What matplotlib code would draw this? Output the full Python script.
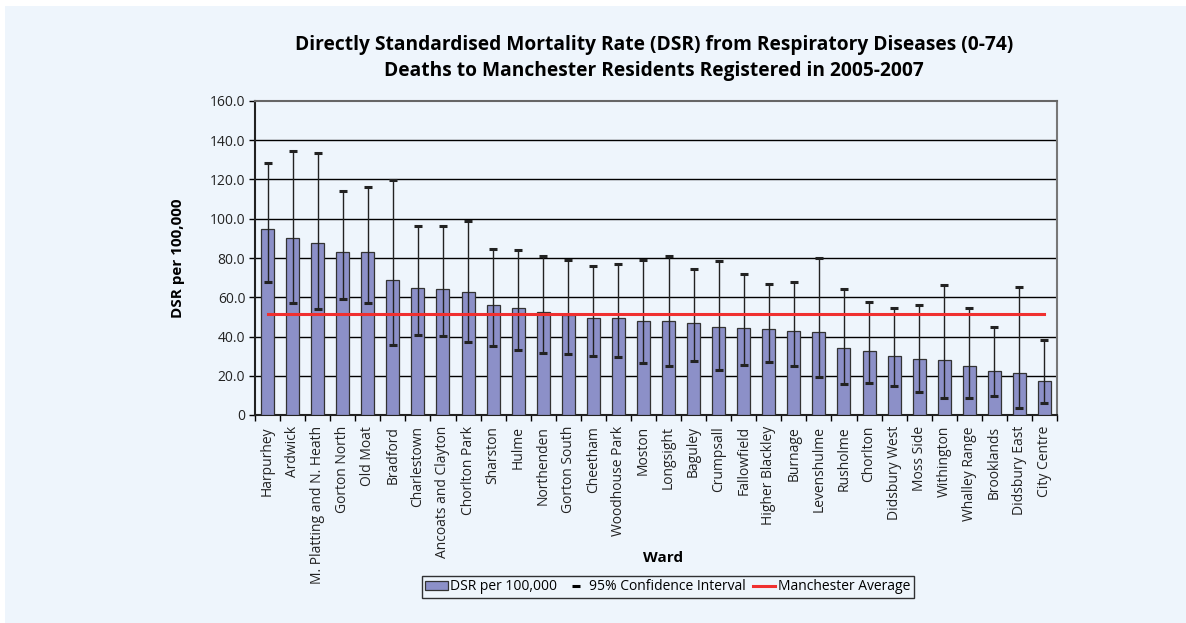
import matplotlib
matplotlib.use("Agg")
import matplotlib.pyplot as plt
from matplotlib.patches import Rectangle, Patch
from matplotlib.lines import Line2D
import numpy as np

plt.rcParams['font.family'] = ['Open Sans', 'DejaVu Sans']

wards = ["Harpurhey", "Ardwick", "M. Platting and N. Heath", "Gorton North", "Old Moat",
         "Bradford", "Charlestown", "Ancoats and Clayton", "Chorlton Park", "Sharston",
         "Hulme", "Northenden", "Gorton South", "Cheetham", "Woodhouse Park", "Moston",
         "Longsight", "Baguley", "Crumpsall", "Fallowfield", "Higher Blackley", "Burnage",
         "Levenshulme", "Rusholme", "Chorlton", "Didsbury West", "Moss Side", "Withington",
         "Whalley Range", "Brooklands", "Didsbury East", "City Centre"]
dsr = [94.6, 90.0, 87.5, 83.2, 83.1, 69.0, 64.6, 64.0, 62.7, 56.2, 54.4, 52.3, 50.8,
       49.4, 49.3, 47.9, 47.7, 46.7, 44.7, 44.5, 43.8, 42.6, 42.5, 34.3, 32.6, 30.2,
       28.4, 27.9, 24.8, 22.6, 21.6, 17.3]
ci_upper = [128.2, 134.7, 133.5, 114.0, 116.3, 119.7, 96.3, 96.3, 98.9, 84.6, 84.2, 81.2,
            79.1, 75.9, 77.1, 79.1, 81.2, 74.2, 78.5, 71.8, 66.9, 67.8, 80.0, 64.2, 57.4,
            54.7, 56.1, 66.1, 54.5, 45.0, 65.2, 38.1]
ci_lower = [67.9, 57.2, 54.2, 59.0, 57.2, 35.5, 40.9, 40.3, 37.0, 35.3, 33.1, 31.6, 31.1,
            30.2, 29.6, 26.5, 25.1, 27.7, 22.9, 25.6, 27.2, 25.0, 19.4, 15.8, 16.5, 14.8,
            11.9, 8.7, 8.8, 9.5, 3.7, 6.3]
manchester_avg = 51.5
yticks = [0, 20, 40, 60, 80, 100, 120, 140, 160]
ytick_labels = ["0", "20.0", "40.0", "60.0", "80.0", "100.0", "120.0", "140.0", "160.0"]

BG = "#EEF5FC"
BAR = "#8C90C8"

fig = plt.figure(figsize=(11.86, 6.23), dpi=100, facecolor="white")
fig.patches.append(Rectangle((5/1186, 0), 1 - 5/1186, 1 - 6/623, transform=fig.transFigure,
                             facecolor=BG, edgecolor="none", zorder=-10))

ax = fig.add_axes([255/1186, 1 - 415/623, (1057 - 255)/1186, (415 - 101)/623])
ax.set_facecolor(BG)

x = np.arange(len(wards))
dsr_a = np.array(dsr)
up = np.array(ci_upper) - dsr_a
lo = dsr_a - np.array(ci_lower)

ax.bar(x, dsr_a, width=0.52, color=BAR, edgecolor="#333333", linewidth=0.9, zorder=3)
ax.errorbar(x, dsr_a, yerr=[lo, up], fmt="none", ecolor="#222222", elinewidth=1.0,
            capsize=2.6, capthick=2.2, zorder=4)
ax.plot([x[0], x[-1]], [manchester_avg, manchester_avg], color="#F03030", lw=2.2, zorder=5)

ax.set_xlim(-0.5, len(wards) - 0.5)
ax.set_ylim(0, 160)
ax.set_yticks(yticks)
ax.set_yticklabels(ytick_labels, fontsize=10, color="#222222")
for v in yticks[1:-1]:
    ax.axhline(v, color="black", lw=1.0, zorder=1)

ax.set_xticks(x)
ax.set_xticklabels(wards, rotation=90, fontsize=10, color="#222222")
ax.tick_params(axis="x", length=0, pad=8)
ax.set_xticks(np.arange(len(wards) + 1) - 0.5, minor=True)
ax.tick_params(axis="x", which="minor", length=4, width=1, color="black")
ax.tick_params(axis="y", length=4, width=1, color="black", pad=3)

ax.spines["left"].set_color("#222222")
ax.spines["left"].set_linewidth(1.5)
ax.spines["bottom"].set_color("#222222")
ax.spines["bottom"].set_linewidth(1.5)
ax.spines["top"].set_color("#666666")
ax.spines["top"].set_linewidth(1.5)
ax.spines["right"].set_color("#777777")
ax.spines["right"].set_linewidth(1.5)

ax.set_ylabel("DSR per 100,000", fontsize=11, fontweight="bold", labelpad=18)
fig.text(663/1186, 1 - 558/623, "Ward", ha="center", va="center", fontsize=11, fontweight="bold")
fig.text(654/1186, 1 - 45/623,
         "Directly Standardised Mortality Rate (DSR) from Respiratory Diseases (0-74)",
         ha="center", va="center", fontsize=13.8, fontweight="bold")
fig.text(654/1186, 1 - 71/623,
         "Deaths to Manchester Residents Registered in 2005-2007",
         ha="center", va="center", fontsize=13.8, fontweight="bold")

handles = [Patch(facecolor=BAR, edgecolor="#333333", linewidth=0.9),
           Line2D([], [], color="black", marker="_", markersize=6, mew=2.2, linestyle="none"),
           Line2D([], [], color="#F03030", lw=2.2)]
labels = ["DSR per 100,000", "95% Confidence Interval", "Manchester Average"]
leg = fig.legend(handles, labels, loc="center", bbox_to_anchor=(668/1186, 1 - 587/623),
                 ncol=3, fontsize=10, frameon=True, fancybox=False, handlelength=1.6,
                 handletextpad=0.2, columnspacing=0.5, borderpad=0.25, handleheight=0.6,
                 borderaxespad=0)
leg.get_frame().set_edgecolor("black")
leg.get_frame().set_linewidth(1.0)
leg.get_frame().set_facecolor(BG)

fig.savefig("out.png", dpi=100, facecolor="white")
